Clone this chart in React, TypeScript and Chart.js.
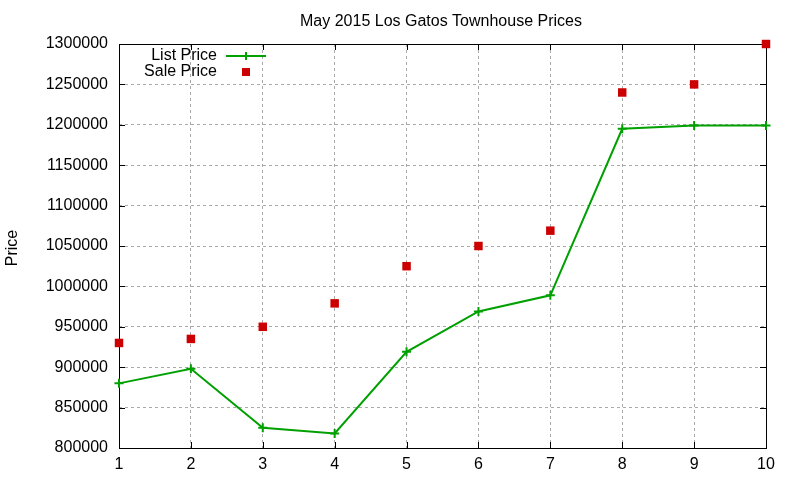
import React, { useEffect, useRef } from "react";
import { Chart, registerables } from "chart.js";

Chart.register(...registerables);

const categories = [1, 2, 3, 4, 5, 6, 7, 8, 9, 10];
const listPrice = [880000, 898000, 825000, 818000, 919000, 969000, 989000, 1195000, 1199000, 1199000];
const salePrice = [930000, 935000, 950000, 979000, 1025000, 1050000, 1069000, 1240000, 1250000, 1300000];
const yTicks = [800000, 850000, 900000, 950000, 1000000, 1050000, 1100000, 1150000, 1200000, 1250000, 1300000];

const FONT = "'Liberation Sans', Arial, sans-serif";
const GREEN = "#00a000";
const RED = "#cc0000";

const framePlugin = {
  id: "frame",
  beforeDatasetsDraw(chart: any) {
    const { ctx, chartArea: a, scales } = chart;
    ctx.save();
    ctx.strokeStyle = "#000";
    ctx.lineWidth = 1;
    ctx.strokeRect(Math.round(a.left) + 0.5, Math.round(a.top) + 0.5, Math.round(a.right - a.left), Math.round(a.bottom - a.top));
    ctx.beginPath();
    const tl = 6;
    for (const v of yTicks) {
      const y = Math.round(scales.y.getPixelForValue(v)) + 0.5;
      ctx.moveTo(a.left, y); ctx.lineTo(a.left + tl, y);
      ctx.moveTo(a.right, y); ctx.lineTo(a.right - tl, y);
    }
    for (const c of categories) {
      const x = Math.round(scales.x.getPixelForValue(c)) + 0.5;
      ctx.moveTo(x, a.bottom); ctx.lineTo(x, a.bottom - tl);
      ctx.moveTo(x, a.top); ctx.lineTo(x, a.top + tl);
    }
    ctx.stroke();
    ctx.restore();
  },
  afterDraw(chart: any) {
    const { ctx } = chart;
    ctx.save();
    // title
    ctx.fillStyle = "#000";
    ctx.font = `16px ${FONT}`;
    ctx.textAlign = "center";
    ctx.textBaseline = "middle";
    ctx.fillText("May 2015 Los Gatos Townhouse Prices", 441, 22);

    // y title
    ctx.save();
    ctx.translate(13, 248);
    ctx.rotate(-Math.PI / 2);
    ctx.fillText("Price", 0, 0);
    ctx.restore();

    // legend
    ctx.textAlign = "right";
    ctx.fillText("List Price", 217, 56);
    ctx.fillText("Sale Price", 217, 72);
    ctx.strokeStyle = GREEN;
    ctx.lineWidth = 2;
    ctx.beginPath();
    ctx.moveTo(226, 56); ctx.lineTo(266, 56);
    ctx.moveTo(246, 52); ctx.lineTo(246, 60);
    ctx.stroke();
    ctx.fillStyle = RED;
    ctx.fillRect(242, 68, 8, 8);
    ctx.restore();
  },
};

export default function App() {
  const ref = useRef<HTMLCanvasElement>(null);
  useEffect(() => {
    const chart = new Chart(ref.current!, {
      type: "line",
      data: {
        datasets: [
          {
            label: "List Price",
            data: categories.map((c, i) => ({ x: c, y: listPrice[i] })),
            borderColor: GREEN,
            backgroundColor: GREEN,
            borderWidth: 2,
            pointStyle: "cross",
            pointRadius: 4.5,
            pointBorderWidth: 2,
            tension: 0,
            clip: false,
          },
          {
            label: "Sale Price",
            data: categories.map((c, i) => ({ x: c, y: salePrice[i] })),
            borderColor: RED,
            backgroundColor: RED,
            showLine: false,
            pointStyle: "rect",
            pointRadius: 6,
            pointBorderWidth: 0,
            clip: false,
          },
        ],
      },
      options: {
        animation: false,
        responsive: false,
        layout: { padding: { top: 44, right: 34, left: 0, bottom: 0 } },
        plugins: { legend: { display: false }, title: { display: false }, tooltip: { enabled: false } },
        scales: {
          x: {
            type: "linear",
            min: 1,
            max: 10,
            afterBuildTicks: (s: any) => { s.ticks = categories.map((v) => ({ value: v })); },
            afterFit: (s: any) => { s.height = 32; },
            grid: { color: "#aaaaaa", drawTicks: false },
            border: { display: false, dash: [3, 3] },
            ticks: { color: "#000", font: { family: FONT, size: 16 }, padding: 7, maxRotation: 0 },
          },
          y: {
            min: 800000,
            max: 1300000,
            afterBuildTicks: (s: any) => { s.ticks = yTicks.map((v) => ({ value: v })); },
            afterFit: (s: any) => { s.width = 119; },
            grid: { color: "#aaaaaa", drawTicks: false },
            border: { display: false, dash: [3, 3] },
            ticks: { color: "#000", font: { family: FONT, size: 16 }, padding: 11, callback: (v: any) => String(v) },
          },
        },
      },
      plugins: [framePlugin],
    } as any);
    return () => chart.destroy();
  }, []);
  return (
    <div style={{ position: "absolute", left: 0, top: 0, width: 800, height: 480, background: "#fff" }}>
      <canvas ref={ref} width={800} height={480} style={{ width: 800, height: 480 }} />
    </div>
  );
}
